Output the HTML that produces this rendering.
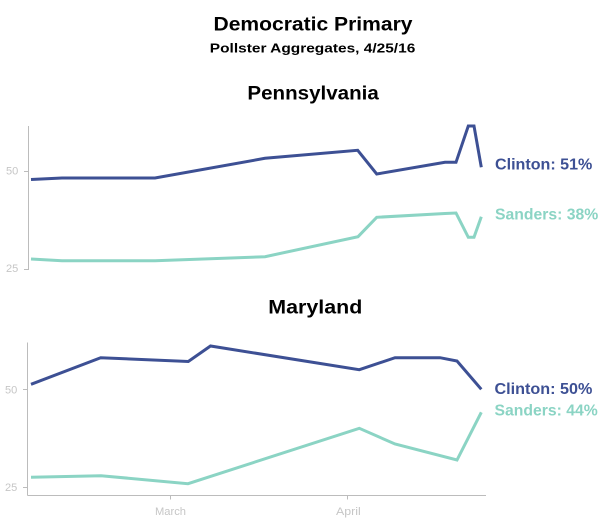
<!DOCTYPE html>
<html>
<head>
<meta charset="utf-8">
<style>
  html, body { margin: 0; padding: 0; background: #ffffff; }
  body { width: 606px; height: 523px; overflow: hidden; }
  svg { display: block; }
  text { font-family: "Liberation Sans", "DejaVu Sans", sans-serif; }
</style>
</head>
<body>
<svg width="606" height="523" viewBox="0 0 606 523" xmlns="http://www.w3.org/2000/svg">
  <!-- Titles -->
  <text x="213.5" y="30.7" font-size="19" font-weight="bold" fill="#000" textLength="199" lengthAdjust="spacingAndGlyphs">Democratic Primary</text>
  <text x="209.8" y="52.7" font-size="13" font-weight="bold" fill="#000" textLength="205.5" lengthAdjust="spacingAndGlyphs">Pollster Aggregates, 4/25/16</text>
  <text x="247.4" y="99.3" font-size="19.5" font-weight="bold" fill="#000" textLength="131.4" lengthAdjust="spacingAndGlyphs">Pennsylvania</text>
  <text x="268.3" y="313.3" font-size="19.5" font-weight="bold" fill="#000" textLength="94" lengthAdjust="spacingAndGlyphs">Maryland</text>

  <!-- Pennsylvania axes -->
  <g stroke="#bcbcbc" stroke-width="1" fill="none">
    <line x1="28.5" y1="126" x2="28.5" y2="270"/>
    <line x1="24" y1="171.5" x2="28.5" y2="171.5"/>
    <line x1="24" y1="269.5" x2="28.5" y2="269.5"/>
  </g>
  <g font-size="11" fill="#c6c6c6">
    <text x="6" y="174.5" textLength="12.3" lengthAdjust="spacingAndGlyphs">50</text>
    <text x="6" y="272" textLength="12.3" lengthAdjust="spacingAndGlyphs">25</text>
  </g>

  <!-- Pennsylvania series -->
  <polyline fill="none" stroke="#3d5094" stroke-width="3" stroke-linejoin="miter" points="31,179.5 62,178 155,178 265,158.3 357.7,150.3 376.7,174 445,162.3 456,162.3 468.3,126 474,126 481.3,167.3"/>
  <polyline fill="none" stroke="#8bd4c4" stroke-width="3" stroke-linejoin="miter" points="31,259 62,260.7 155,260.7 265,256.7 358,236.7 376.7,217.3 445,213.5 456,213 468.3,237.3 474,237.3 481.3,216.7"/>

  <text x="495" y="169.3" font-size="16" font-weight="bold" fill="#3d5094" textLength="97.3" lengthAdjust="spacingAndGlyphs">Clinton: 51%</text>
  <text x="495" y="219.3" font-size="16" font-weight="bold" fill="#8bd4c4" textLength="103.3" lengthAdjust="spacingAndGlyphs">Sanders: 38%</text>

  <!-- Maryland axes -->
  <g stroke="#bcbcbc" stroke-width="1" fill="none">
    <line x1="27.5" y1="342.5" x2="27.5" y2="495.5"/>
    <line x1="27.5" y1="495.5" x2="486" y2="495.5"/>
    <line x1="23" y1="389.5" x2="27.5" y2="389.5"/>
    <line x1="23" y1="487.5" x2="27.5" y2="487.5"/>
    <line x1="170.5" y1="495.5" x2="170.5" y2="499.5"/>
    <line x1="347.5" y1="495.5" x2="347.5" y2="499.5"/>
  </g>
  <g font-size="11" fill="#c6c6c6">
    <text x="5" y="393.3" textLength="12.3" lengthAdjust="spacingAndGlyphs">50</text>
    <text x="5" y="491" textLength="12.3" lengthAdjust="spacingAndGlyphs">25</text>
    <text x="155" y="515" textLength="31" lengthAdjust="spacingAndGlyphs">March</text>
    <text x="336" y="515" textLength="24.7" lengthAdjust="spacingAndGlyphs">April</text>
  </g>

  <!-- Maryland series -->
  <polyline fill="none" stroke="#3d5094" stroke-width="3" stroke-linejoin="miter" points="31,384.3 100.7,357.7 188.3,361.5 210.5,346 359.3,369.7 395,357.7 440,357.7 457,361 481.3,389.3"/>
  <polyline fill="none" stroke="#8bd4c4" stroke-width="3" stroke-linejoin="miter" points="31,477.3 101,475.7 188,483.7 359.3,428.3 395,444 457,460 481.3,412.3"/>

  <text x="494.5" y="394" font-size="16" font-weight="bold" fill="#3d5094" textLength="97.8" lengthAdjust="spacingAndGlyphs">Clinton: 50%</text>
  <text x="494.5" y="415.7" font-size="16" font-weight="bold" fill="#8bd4c4" textLength="103.2" lengthAdjust="spacingAndGlyphs">Sanders: 44%</text>
</svg>
</body>
</html>
